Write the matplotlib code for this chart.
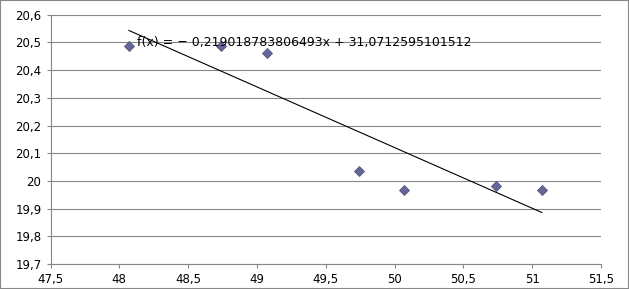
import numpy as np
import matplotlib.pyplot as plt
from matplotlib.patches import Rectangle
from matplotlib.ticker import FuncFormatter

# data
x_vals = [48.07, 48.74, 49.07, 49.74, 50.07, 50.74, 51.07]
y_vals = [20.487, 20.488, 20.462, 20.035, 19.968, 19.983, 19.968]
slope = -0.219018783806493
intercept = 31.0712595101512
eq_text = "f(x) = \u2212 0,219018783806493x + 31,0712595101512"

x_ticks = np.arange(47.5, 51.51, 0.5)
y_ticks = np.arange(19.7, 20.601, 0.1)

def comma(v, pos):
    s = ('%.1f' % v).rstrip('0').rstrip('.')
    return s.replace('.', ',')

fig = plt.figure(figsize=(6.29, 2.89), dpi=100)
ax = fig.add_axes([50.5/629, 1 - 264/289, (601 - 50.5)/629, (264 - 14.7)/289])

grey = '#878787'
ax.set_xlim(47.5, 51.5)
ax.set_ylim(19.7, 20.6)
ax.set_xticks(x_ticks)
ax.set_yticks(y_ticks)
ax.xaxis.set_major_formatter(FuncFormatter(comma))
ax.yaxis.set_major_formatter(FuncFormatter(comma))
ax.grid(axis='y', color=grey, lw=0.8)
ax.set_axisbelow(True)
for s in ['top', 'right']:
    ax.spines[s].set_visible(False)
for s in ['left', 'bottom']:
    ax.spines[s].set_color(grey)
    ax.spines[s].set_linewidth(0.8)
ax.tick_params(axis='both', colors=grey, labelcolor='black', labelsize=8.5, length=3, width=0.8)

# trend line over the data range
xl = np.array([min(x_vals), max(x_vals)])
ax.plot(xl, slope * xl + intercept, color='black', lw=0.8)
ax.plot(x_vals, y_vals, 'D', ms=5.6, color='#666699', mec='#55557f', mew=0.6, ls='none')

ax.text(137/629, 1 - 42.5/289, eq_text, transform=fig.transFigure, fontsize=9,
        va='center', ha='left')

fig.patches.append(Rectangle((0, 0), 1, 1, transform=fig.transFigure, fill=False,
                             edgecolor=grey, lw=1.5))

fig.savefig('out.png', dpi=100)
